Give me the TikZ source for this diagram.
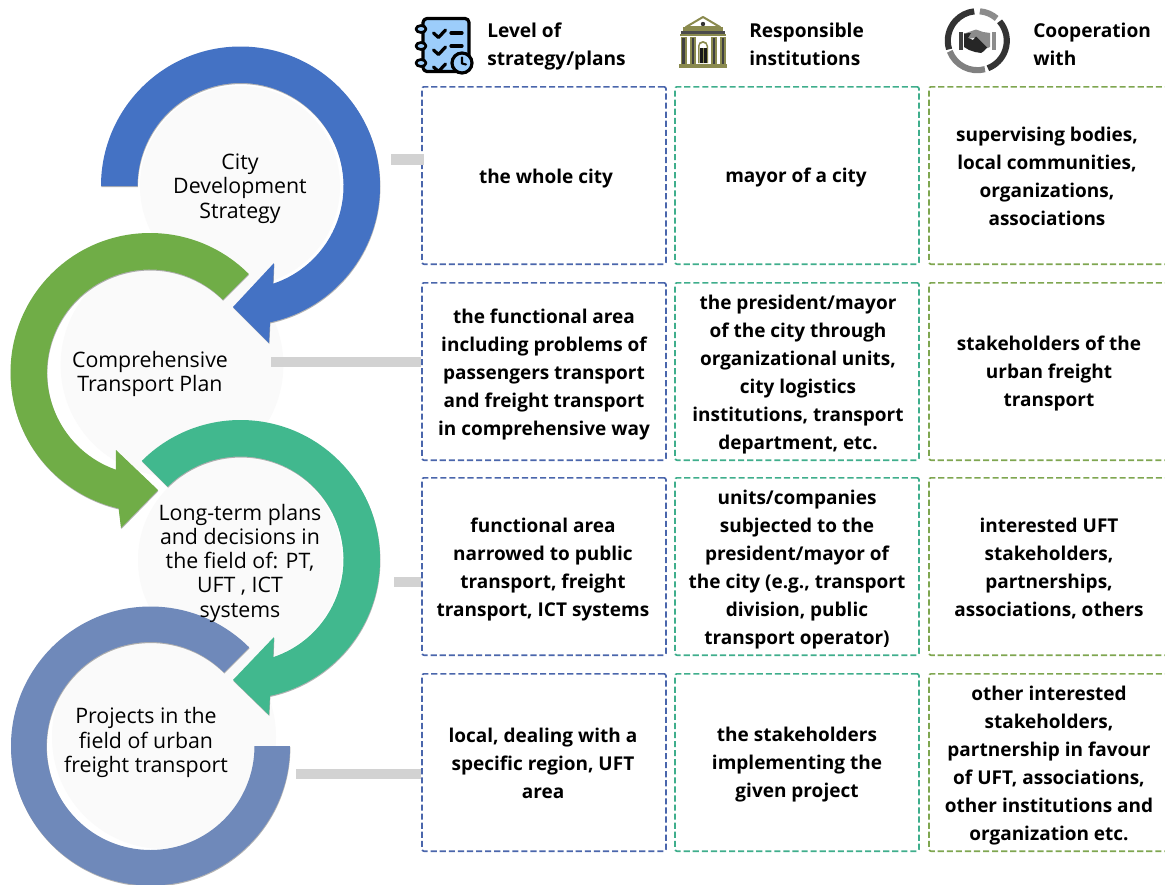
\documentclass[tikz,border=0pt]{standalone}
\usepackage{fontspec}
\setmainfont{Open Sans}
\usetikzlibrary{shadows}
\definecolor{cblue}{HTML}{4472C4}
\definecolor{cgreen}{HTML}{70AD47}
\definecolor{cteal}{HTML}{41B88E}
\definecolor{csteel}{HTML}{6F89BA}
\definecolor{bblue}{HTML}{4A66AC}
\definecolor{bteal}{HTML}{3FAE8C}
\definecolor{bgreen}{HTML}{7FA650}
\definecolor{disc}{HTML}{FAFAFA}
\definecolor{barc}{HTML}{D2D2D2}
\definecolor{olive}{HTML}{8A8A4E}
\definecolor{ltblue}{HTML}{9CCDFB}
\tikzset{
  x=.75pt,y=-.75pt,
  ring/.style={draw=none,drop shadow={shadow xshift=.3pt,shadow yshift=-.8pt,opacity=.3,fill=black}},
  discnode/.style={circle,fill=disc,draw=none,inner sep=0pt},
  ringlabel/.style={align=center,font=\fontsize{16}{18.2}\selectfont,text=black,inner sep=0pt},
  cell/.style={draw,dashed,dash pattern=on 4.6pt off 2.2pt,line width=1.25pt,rounded corners=1.5pt,minimum width=183pt,minimum height=133pt,inner sep=0pt},
  cellblue/.style={cell,draw=bblue},
  cellteal/.style={cell,draw=bteal},
  cellgreen/.style={cell,draw=bgreen,minimum width=183pt},
  coltext/.style={align=center,font=\fontsize{14.25}{21}\selectfont\bfseries,inner sep=0pt,text=black},
  bar/.style={draw=barc,line width=7.6pt},
  head/.style={anchor=west,align=left,font=\fontsize{14.35}{21}\selectfont\bfseries,text=black,inner sep=0pt},
}
\begin{document}
\begin{tikzpicture}
\useasboundingbox (0,0) rectangle (1165,885);
\clip (0,0) rectangle (1165,885);
\fill[white] (0,0) rectangle (1165,885);
% discs
\node[discnode,minimum size=150pt] (d1) at (240,186) {};
\node[discnode,minimum size=167pt] (d2) at (172,365) {};
\node[discnode,minimum size=153pt] (d3) at (240,560) {};
\node[discnode,minimum size=168pt] (d4) at (164,737) {};
\coordinate (cA) at (240.5,186);
\coordinate (cB) at (150,372.5);
\coordinate (cC) at (240.5,559.5);
\coordinate (cD) at (150.5,746);
% bottom ring
\path[ring,fill=csteel] (cD) ++(0:139.5) arc[start angle=360,end angle=675,radius=139.5]
  -- ([shift={(-45:104)}]cD) arc[start angle=675,end angle=360,radius=104] -- cycle;
% teal arrow
\path[ring,fill=cteal] ([shift={(225:139.5)}]cC) arc[start angle=225,end angle=437.8,radius=139.5]
  -- ([shift={(28.5,155.5)}]cC) -- ([shift={(-7.5,120.5)}]cC) -- ([shift={(33.5,77.5)}]cC)
  -- ([shift={(431.5:103)}]cC) arc[start angle=431.5,end angle=225,radius=103] -- cycle;
% green arrow
\path[ring,fill=cgreen] ([shift={(315:139.5)}]cB) arc[start angle=315,end angle=103,radius=139.5]
  -- ([shift={(-29,155.5)}]cB) -- ([shift={(8,117.5)}]cB) -- ([shift={(-34,77.5)}]cB)
  -- ([shift={(109.4:103)}]cB) arc[start angle=109.4,end angle=315,radius=103] -- cycle;
% blue arrow
\path[ring,fill=cblue] ([shift={(180:139.5)}]cA) arc[start angle=180,end angle=437.8,radius=139.5]
  -- ([shift={(28.5,157)}]cA) -- ([shift={(-7.5,121)}]cA) -- ([shift={(33.5,77)}]cA)
  -- ([shift={(431.5:103)}]cA) arc[start angle=431.5,end angle=180,radius=103] -- cycle;
% ring labels
\node[ringlabel] (l1) at (240,188.5) {City\\Development\\Strategy};
\node[ringlabel] (l2) at (150,374) {Comprehensive\\Transport Plan};
\node[ringlabel] (l3) at (240,563) {Long-term plans\\and decisions in\\the field of: PT,\\UFT , ICT\\systems};
\node[ringlabel] (l4) at (146,742.5) {Projects in the\\field of urban\\freight transport};
% cells
\node[cellblue] (a1) at (544,175.5) {};
\node[cellteal] (b1) at (797,175.5) {};
\node[cellgreen] (c1) at (1051,175.5) {};
\node[cellblue] (a2) at (544,371.5) {};
\node[cellteal] (b2) at (797,371.5) {};
\node[cellgreen] (c2) at (1051,371.5) {};
\node[cellblue] (a3) at (544,566.5) {};
\node[cellteal] (b3) at (797,566.5) {};
\node[cellgreen] (c3) at (1051,566.5) {};
\node[cellblue] (a4) at (544,762.5) {};
\node[cellteal] (b4) at (797,762.5) {};
\node[cellgreen] (c4) at (1051,762.5) {};
% cell texts
\node[coltext] (ta1) at (546,178.5) {the whole city};
\node[coltext] (tb1) at (796,178) {mayor of a city};
\node[coltext] (ta2) at (544,374.5) {the functional area\\including problems of\\passengers transport\\and freight transport\\in comprehensive way};
\node[coltext] (tb2) at (798,374.5) {the president/mayor\\of the city through\\organizational units,\\city logistics\\institutions, transport\\department, etc.};
\node[coltext] (ta3) at (543,569.5) {functional area\\narrowed to public\\transport, freight\\transport, ICT systems};
\node[coltext] (tb3) at (797,569.5) {units/companies\\subjected to the\\president/mayor of\\the city (e.g., transport\\division, public\\transport operator)};
\node[coltext] (ta4) at (543,763) {local, dealing with a\\specific region, UFT\\area};
\node[coltext] (tb4) at (797,765) {the stakeholders\\implementing the\\given project};
\node[coltext] (t1) at (1047,176.5) {supervising bodies,\\local communities,\\organizations,\\associations};
\node[coltext] (t2) at (1049,373.5) {stakeholders of the\\urban freight\\transport};
\node[coltext] (t3) at (1049,568.5) {interested UFT\\stakeholders,\\partnerships,\\associations, others};
\node[coltext] (t4) at (1049,765.5) {other interested\\stakeholders,\\partnership in favour\\of UFT, associations,\\other institutions and\\organization etc.};
% connector bars
\coordinate (s1) at (391,159.5);
\coordinate (s2) at (271,362);
\coordinate (s3) at (394,582);
\coordinate (s4) at (296,774);
\draw[bar] (s1) -- ([xshift=2pt]s1 -| a1.west);
\draw[bar] (s2) -- (s2 -| a2.west);
\draw[bar] (s3) -- (s3 -| a3.west);
\draw[bar] (s4) -- (s4 -| a4.west);
% headers
\node[head] (h1) at (487,46.5) {Level of\\strategy/plans};
\node[head] (h2) at (749,44) {Responsible\\institutions};
\node[head] (h3) at (1033,44) {Cooperation\\with};
% icon 1
\begin{scope}[line width=2.4pt,draw=black,line cap=round,line join=round]
\draw[fill=ltblue,rounded corners=3pt] (423,18.5) rectangle (469,71.5);
\foreach \yy in {29,46,63}{\draw[fill=ltblue,line width=2pt] (421,\yy) ellipse [x radius=5,y radius=3.5];}
\foreach \yy in {0,17,34}{
  \draw (433.5,33+\yy) -- (438.5,37.5+\yy) -- (445.5,30+\yy);
}
\draw (451,33) -- (462,33);
\draw (451,46) -- (462,46);
\draw[fill=ltblue] (462,63) circle [radius=10];
\draw[line width=1.6pt] (462,57.5) -- (462,63.5) -- (466,64.5);
\end{scope}
% icon 2
\begin{scope}[fill=olive]
\draw[olive,line width=1.5pt,fill=white,line join=round] (686,27) -- (703,17) -- (720,27) -- cycle;
\fill[black!80] (703,24) circle [radius=2.2];
\fill (683,27) rectangle (723,31);
\fill[black!70] (681,31) rectangle (725,34);
\fill (680,34) rectangle (726,36);
\foreach \xx in {680.5,690,711,720}{
  \fill (\xx,37) rectangle +(6,16);
  \fill[black!75] (\xx+1.5,38) rectangle +(2.5,15);
  \fill (\xx,53) rectangle +(6,14);
  \fill[black!75] (\xx+1.5,53) rectangle +(2.5,14);
}
\fill (679,63.5) rectangle (727,67.5) ;
\fill[olive] (698,63) -- (698,46) arc[start angle=180,end angle=360,radius=5] -- (708,63) -- cycle;
\fill[white] (699.5,63) -- (699.5,46.5) arc[start angle=180,end angle=360,radius=3.5] -- (706.5,63) -- cycle;
\fill[black!90] (699.5,63) rectangle (706.5,48);
\fill[olive] (702.5,63) rectangle (703.5,48);
\end{scope}
% icon 3
\begin{scope}[line width=4.6pt]
\coordinate (cI) at (977.3,40.7);
\draw[black!80] ([shift={(163:29.5)}]cI) arc[start angle=163,end angle=264,radius=29.5];
\draw[black!45] ([shift={(275:29.5)}]cI) arc[start angle=275,end angle=311,radius=29.5];
\draw[black!80] ([shift={(319:29.5)}]cI) arc[start angle=319,end angle=429,radius=29.5];
\draw[black!50] ([shift={(75:29.5)}]cI) arc[start angle=75,end angle=159,radius=29.5];
\fill[black!75] (958.5,32) rectangle (963,50);
\fill[black!45] (991.5,32) rectangle (996,50);
\fill[black!45] (966,33) -- (976,29.5) -- (983,32) -- (990,33) -- (990,47) -- (985,49) -- (974,38) -- (968,39) -- cycle;
\fill[black!85] (964,33.5) -- (971,33) -- (968,38) -- (973,40) -- (976,36.5) -- (987,47.5) -- (984,51) -- (981,53) -- (975,52) -- (969,50) -- (964,47) -- cycle;
\end{scope}
\end{tikzpicture}
\end{document}
